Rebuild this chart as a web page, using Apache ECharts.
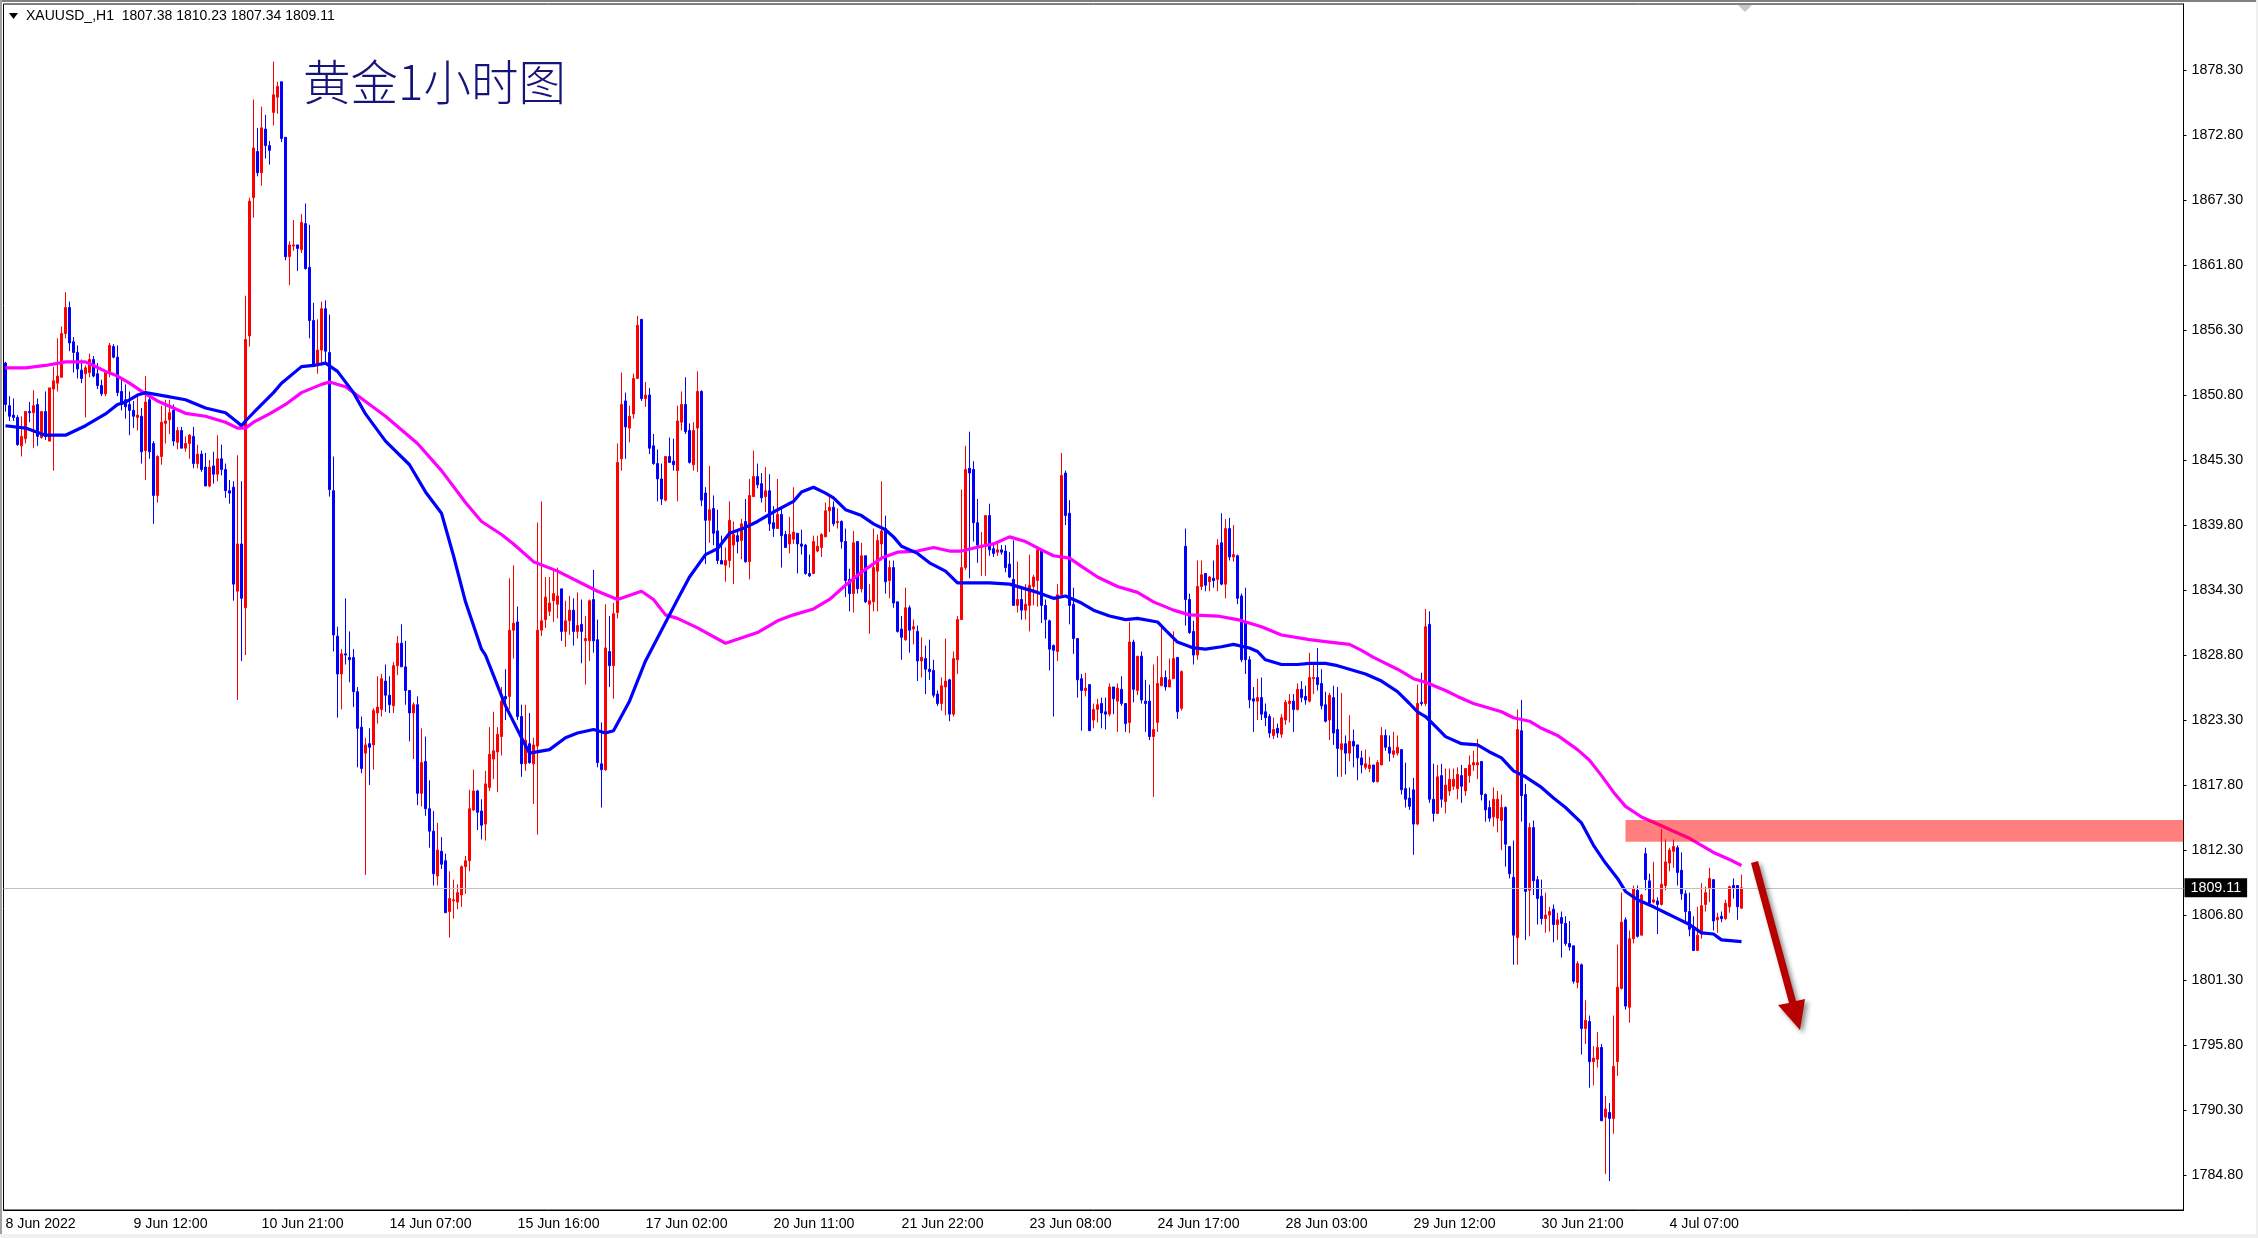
<!DOCTYPE html>
<html><head><meta charset="utf-8"><style>html,body{margin:0;padding:0;background:#fff}#c{width:2258px;height:1238px}</style>
<script src="https://cdn.jsdelivr.net/npm/echarts@6/dist/echarts.min.js"></script></head><body><div id="c"></div>
<script>
const tickLabels=['8 Jun 2022','9 Jun 12:00','10 Jun 21:00','14 Jun 07:00','15 Jun 16:00','17 Jun 02:00','20 Jun 11:00','21 Jun 22:00','23 Jun 08:00','24 Jun 17:00','28 Jun 03:00','29 Jun 12:00','30 Jun 21:00','4 Jul 07:00'];
const barsPerTick=32;
const axisSlots=545;
const priceTicks=[1784.8,1790.3,1795.8,1801.3,1806.8,1812.3,1817.8,1823.3,1828.8,1834.3,1839.8,1845.3,1850.8,1856.3,1861.8,1867.3,1872.8,1878.3];
const lastPrice=1809.11;
const resistanceZone=[[405,1814.85,1813.0]];
const opens=[
1853.5,1849.9,1849.1,1848.9,1846.5,1847.1,1849.4,1849.3,1850.0,1847.2,
1849.4,1846.9,1851.3,1851.8,1852.3,1856.0,1858.2,1855.3,1854.4,1852.9,
1852.6,1852.7,1853.8,1852.6,1851.6,1850.9,1852.7,1854.9,1854.0,1851.1,
1850.4,1850.0,1849.5,1848.9,1849.0,1846.1,1850.4,1846.7,1842.3,1845.6,
1848.4,1848.7,1849.5,1846.8,1847.8,1846.3,1846.7,1847.3,1845.0,1845.8,
1844.7,1843.1,1844.8,1844.1,1845.4,1844.5,1842.7,1843.0,1834.2,1838.2,
1832.8,1855.8,1867.5,1871.4,1869.6,1873.3,1871.9,1874.7,1876.0,1877.3,
1872.6,1862.5,1863.4,1863.5,1863.1,1865.3,1861.6,1857.1,1853.3,1854.6,
1858.1,1854.4,1842.7,1830.4,1827.2,1828.9,1828.6,1828.6,1825.7,1822.7,
1820.5,1821.3,1821.2,1823.9,1824.2,1826.6,1825.4,1824.5,1827.9,1829.8,
1827.8,1825.8,1823.9,1824.6,1817.1,1819.8,1815.8,1813.9,1810.1,1812.2,
1811.4,1807.1,1808.0,1807.9,1808.5,1810.9,1811.4,1815.7,1817.3,1815.6,
1814.5,1817.6,1820.0,1820.6,1821.9,1825.3,1825.3,1830.9,1831.6,1823.6,
1819.6,1821.3,1819.6,1821.1,1830.9,1831.8,1832.5,1833.4,1833.1,1834.4,
1830.8,1831.7,1832.6,1830.8,1831.4,1830.0,1830.0,1833.5,1830.1,1819.6,
1819.1,1829.1,1827.9,1832.4,1845.4,1850.3,1848.0,1849.2,1852.2,1857.2,
1850.5,1850.8,1846.5,1845.0,1843.7,1841.9,1845.6,1845.2,1844.4,1848.5,
1850.0,1847.8,1844.9,1848.0,1851.1,1842.5,1840.2,1841.2,1839.3,1836.8,
1836.4,1836.8,1838.1,1838.9,1838.5,1840.1,1836.7,1842.2,1843.9,1843.3,
1842.2,1842.7,1840.0,1839.5,1840.7,1839.0,1838.2,1838.6,1839.1,1838.2,
1838.1,1835.7,1835.7,1837.6,1837.9,1838.8,1841.0,1841.3,1840.0,1840.1,
1838.4,1835.2,1834.0,1838.4,1834.4,1837.2,1833.1,1833.3,1835.9,1838.2,
1839.5,1835.1,1836.2,1833.3,1831.0,1830.1,1832.8,1831.0,1830.8,1828.3,
1828.5,1827.6,1827.5,1825.5,1824.7,1826.1,1826.7,1823.8,1828.4,1831.8,
1836.2,1844.6,1844.5,1840.0,1837.9,1838.2,1840.6,1837.8,1837.5,1837.7,
1837.6,1836.5,1835.2,1833.0,1833.5,1832.6,1833.0,1834.6,1835.1,1837.6,
1833.0,1831.7,1829.6,1829.1,1833.9,1844.2,1840.8,1833.1,1830.2,1826.8,
1825.8,1826.3,1823.3,1824.2,1824.7,1824.0,1823.8,1826.1,1824.9,1825.9,
1824.7,1823.1,1829.9,1825.8,1828.7,1824.9,1824.9,1821.9,1823.1,1826.2,
1826.9,1826.1,1826.8,1828.6,1824.3,1838.0,1833.5,1830.8,1828.8,1834.6,
1835.7,1835.0,1835.3,1835.2,1838.3,1834.8,1839.5,1837.1,1837.2,1833.8,
1831.6,1828.4,1825.1,1824.9,1825.2,1824.0,1823.6,1822.0,1822.6,1822.1,
1823.3,1824.7,1824.9,1824.2,1825.9,1825.3,1824.9,1826.8,1826.9,1826.4,
1824.6,1823.3,1825.2,1822.5,1820.8,1821.3,1820.5,1821.5,1821.2,1820.1,
1819.3,1819.2,1819.5,1818.1,1819.5,1822.0,1821.0,1820.4,1820.5,1820.8,
1817.5,1816.7,1817.4,1814.5,1824.8,1824.7,1831.4,1816.6,1815.4,1818.6,
1816.4,1817.3,1817.7,1817.5,1818.6,1817.3,1818.6,1819.5,1819.5,1819.8,
1817.0,1815.9,1815.1,1815.0,1814.8,1815.9,1812.6,1810.0,1804.9,1822.4,
1817.0,1808.9,1814.2,1809.8,1808.4,1806.5,1806.8,1807.3,1806.0,1806.6,
1806.1,1804.4,1804.2,1801.1,1802.6,1797.2,1797.8,1794.4,1794.6,1795.6,
1789.7,1790.1,1789.6,1794.4,1800.6,1806.4,1799.0,1804.8,1808.9,1805.1,
1812.0,1809.7,1807.9,1808.0,1807.7,1809.3,1811.2,1812.2,1812.5,1810.6,
1808.6,1807.1,1805.8,1803.8,1805.2,1807.7,1809.1,1809.8,1806.4,1806.7,
1806.5,1807.5,1809.3,1809.3,1807.38];
const closes=[
1850.0,1849.0,1848.9,1846.6,1847.3,1849.4,1849.3,1849.9,1847.3,1849.4,
1847.3,1851.4,1852.0,1852.4,1856.0,1858.2,1855.2,1854.4,1853.0,1852.2,
1853.1,1853.8,1852.4,1851.6,1850.9,1852.7,1855.0,1854.0,1851.0,1850.0,
1849.8,1849.5,1849.0,1849.1,1846.0,1850.2,1846.0,1842.3,1845.6,1848.5,
1848.6,1849.3,1846.9,1847.8,1846.3,1846.7,1847.4,1845.0,1845.8,1844.5,
1843.1,1844.7,1844.1,1845.4,1844.5,1842.7,1842.5,1834.8,1838.2,1833.6,
1855.5,1867.2,1871.7,1869.6,1873.4,1871.9,1871.5,1876.2,1876.9,1872.5,
1862.5,1863.5,1863.5,1863.2,1865.4,1861.5,1857.1,1853.2,1854.6,1858.1,
1854.5,1842.8,1830.5,1827.2,1828.9,1828.8,1828.4,1825.7,1822.6,1819.2,
1821.2,1821.0,1824.1,1824.4,1826.8,1825.4,1824.6,1827.9,1829.8,1827.8,
1825.8,1823.9,1824.6,1817.1,1819.7,1815.8,1813.9,1810.3,1812.3,1811.1,
1807.0,1808.2,1808.1,1808.7,1810.9,1811.4,1815.8,1817.3,1815.5,1814.4,
1817.9,1820.4,1820.7,1822.1,1824.9,1825.1,1830.9,1831.5,1823.6,1819.6,
1821.6,1819.7,1821.2,1830.9,1831.7,1833.7,1833.2,1834.0,1833.8,1830.8,
1831.7,1832.6,1830.8,1831.3,1830.8,1830.2,1833.4,1830.0,1819.7,1819.1,
1829.4,1827.9,1832.3,1845.1,1850.0,1848.1,1849.0,1852.2,1856.7,1850.5,
1850.8,1846.3,1845.0,1843.7,1842.0,1845.6,1845.1,1844.9,1848.6,1850.0,
1847.7,1845.1,1847.8,1851.1,1841.9,1840.2,1841.1,1839.1,1836.8,1836.5,
1836.8,1840.2,1839.0,1838.4,1839.9,1836.7,1842.3,1843.9,1843.2,1842.1,
1842.7,1839.9,1839.5,1840.7,1838.9,1837.9,1839.0,1839.2,1838.2,1838.0,
1835.7,1835.5,1838.4,1838.0,1839.0,1841.0,1841.3,1839.9,1840.1,1838.4,
1835.1,1834.0,1838.3,1834.4,1837.2,1833.3,1833.4,1836.2,1838.5,1839.3,
1835.0,1836.2,1833.2,1830.8,1830.3,1832.8,1830.9,1831.2,1828.3,1828.6,
1827.6,1827.4,1825.4,1824.7,1826.2,1826.6,1823.8,1828.5,1831.8,1836.2,
1844.5,1844.2,1840.0,1838.1,1838.0,1840.6,1837.7,1837.4,1837.7,1837.5,
1836.2,1835.4,1833.0,1833.5,1832.6,1833.1,1834.7,1835.4,1837.7,1833.0,
1831.8,1829.3,1829.2,1833.9,1844.0,1840.6,1833.0,1830.2,1826.7,1825.8,
1826.0,1822.4,1824.2,1824.6,1823.9,1823.8,1826.1,1825.1,1826.0,1824.7,
1823.0,1829.9,1825.9,1828.7,1825.0,1824.7,1821.9,1822.5,1826.4,1826.9,
1826.1,1826.7,1828.5,1824.0,1827.4,1833.5,1830.7,1828.8,1834.6,1835.6,
1834.7,1835.4,1835.1,1838.1,1834.8,1839.5,1837.1,1837.3,1833.6,1828.4,
1828.4,1825.0,1824.9,1825.2,1823.8,1823.5,1822.2,1822.5,1822.2,1823.5,
1824.8,1824.9,1824.2,1825.9,1825.2,1825.0,1826.9,1826.9,1826.3,1824.5,
1823.2,1825.4,1822.2,1820.9,1821.3,1820.5,1821.5,1821.1,1820.1,1819.5,
1819.6,1819.5,1818.1,1819.7,1822.0,1821.0,1820.5,1820.7,1821.0,1817.4,
1816.6,1816.0,1814.5,1824.7,1824.7,1831.2,1816.6,1815.4,1818.5,1816.6,
1817.8,1818.3,1818.3,1818.7,1817.7,1819.2,1819.5,1819.7,1819.7,1817.0,
1815.7,1815.0,1816.6,1816.6,1815.9,1812.8,1810.3,1805.1,1822.5,1816.9,
1808.8,1814.2,1809.7,1808.2,1806.5,1806.8,1807.1,1806.0,1806.4,1806.1,
1804.4,1804.1,1801.2,1802.7,1797.2,1797.9,1794.4,1794.7,1795.6,1789.4,
1790.4,1789.6,1794.0,1800.7,1806.2,1799.1,1804.8,1809.0,1805.0,1808.5,
1809.8,1807.8,1808.1,1807.7,1809.4,1811.3,1812.3,1812.6,1810.4,1808.6,
1807.1,1805.6,1803.8,1805.1,1807.6,1808.7,1809.9,1806.3,1806.6,1806.5,
1807.8,1809.2,1809.1,1807.5,1809.11];
const highs=[
1853.6,1850.7,1850.5,1849.1,1849.0,1849.4,1850.2,1851.2,1850.5,1849.4,
1851.1,1851.4,1853.2,1855.6,1856.6,1859.5,1858.7,1855.7,1855.0,1853.8,
1853.3,1854.3,1854.1,1853.5,1852.1,1852.9,1855.2,1855.1,1855.0,1852.1,
1851.7,1851.1,1850.3,1850.7,1849.7,1852.4,1850.7,1846.9,1845.7,1849.9,
1850.4,1850.4,1850.0,1848.1,1848.1,1847.3,1847.5,1848.1,1846.6,1846.1,
1845.9,1845.3,1846.0,1847.4,1846.6,1845.0,1843.6,1843.5,1845.7,1843.5,
1859.2,1867.5,1875.8,1873.4,1875.2,1874.5,1872.3,1879.0,1877.3,1877.3,
1872.6,1863.8,1865.6,1863.5,1866.1,1867.0,1865.2,1858.6,1857.2,1858.7,
1858.8,1857.6,1845.6,1831.2,1829.3,1833.6,1830.8,1829.3,1826.1,1823.6,
1821.8,1822.6,1824.3,1827.0,1827.2,1828.0,1827.0,1828.2,1830.4,1831.4,
1830.0,1825.8,1824.8,1825.3,1822.6,1821.9,1818.2,1815.6,1814.6,1813.4,
1812.0,1810.5,1809.8,1809.4,1811.0,1811.8,1817.4,1819.1,1817.4,1816.6,
1819.0,1822.7,1824.0,1822.7,1826.1,1827.6,1835.3,1836.4,1832.9,1824.6,
1824.6,1823.9,1821.8,1840.0,1841.8,1835.4,1835.4,1836.1,1836.2,1834.4,
1833.4,1833.8,1833.6,1834.1,1833.5,1832.1,1833.5,1836.0,1831.8,1823.1,
1833.1,1832.1,1833.2,1846.7,1852.7,1851.0,1849.9,1852.6,1857.5,1857.2,
1851.9,1851.4,1847.5,1846.2,1845.0,1845.6,1847.2,1847.1,1849.9,1851.1,
1852.3,1848.4,1848.5,1852.8,1851.2,1843.0,1844.8,1842.3,1841.1,1838.9,
1837.9,1841.8,1840.1,1839.4,1840.3,1842.0,1843.7,1846.1,1845.0,1844.2,
1844.7,1844.1,1841.4,1843.7,1841.2,1839.3,1840.5,1843.0,1839.1,1839.4,
1838.2,1837.3,1838.9,1838.9,1839.1,1841.7,1842.2,1841.8,1841.2,1840.2,
1839.5,1836.1,1839.3,1838.4,1838.3,1837.2,1834.8,1839.5,1839.0,1843.5,
1840.6,1836.8,1836.8,1833.3,1832.1,1834.5,1833.0,1831.8,1831.3,1830.3,
1829.6,1830.1,1828.4,1825.8,1826.9,1830.2,1826.8,1829.1,1832.1,1842.8,
1846.5,1847.7,1845.2,1842.0,1839.2,1840.6,1841.6,1838.2,1838.2,1838.1,
1838.1,1837.5,1838.5,1836.7,1834.6,1834.8,1837.3,1835.6,1837.9,1837.7,
1833.5,1831.8,1829.7,1834.8,1845.9,1844.4,1841.9,1834.5,1830.2,1827.2,
1827.3,1826.3,1824.7,1825.1,1825.2,1825.2,1826.4,1826.1,1826.4,1827.0,
1824.7,1831.6,1830.1,1828.7,1829.1,1826.7,1826.3,1828.0,1828.7,1831.1,
1827.5,1828.5,1830.8,1828.6,1827.5,1839.5,1834.0,1831.7,1836.8,1836.8,
1835.7,1835.5,1836.8,1838.6,1840.8,1840.3,1840.4,1839.8,1837.3,1834.0,
1834.5,1828.7,1826.1,1826.8,1826.9,1824.7,1823.8,1823.5,1823.0,1823.8,
1825.0,1825.5,1825.5,1826.4,1826.6,1826.2,1829.0,1828.0,1829.4,1827.6,
1825.7,1825.6,1826.2,1826.1,1825.6,1822.0,1823.7,1822.5,1821.2,1820.7,
1820.8,1820.2,1819.5,1819.9,1822.7,1822.5,1822.0,1822.3,1822.0,1820.8,
1819.7,1817.6,1818.4,1826.3,1827.3,1832.7,1832.5,1819.6,1819.5,1819.6,
1819.2,1819.2,1819.2,1819.3,1819.5,1819.2,1820.3,1820.7,1821.7,1819.8,
1817.1,1816.5,1817.6,1817.3,1817.0,1816.0,1812.6,1813.1,1824.2,1825.0,
1817.9,1814.6,1814.8,1810.1,1809.8,1808.7,1807.5,1807.7,1807.0,1807.1,
1806.7,1806.3,1804.2,1802.9,1802.7,1799.6,1798.3,1795.7,1796.9,1795.9,
1791.5,1790.9,1798.3,1804.3,1808.7,1806.6,1805.5,1809.3,1809.3,1808.6,
1812.5,1810.3,1811.3,1808.3,1814.1,1813.2,1812.5,1813.2,1812.7,1812.1,
1808.9,1808.7,1806.7,1807.5,1809.5,1809.2,1810.8,1809.8,1807.0,1807.1,
1808.1,1809.3,1809.9,1809.3,1810.23];
const lows=[
1849.4,1848.6,1848.6,1846.5,1845.6,1846.7,1848.5,1846.3,1846.5,1847.1,
1847.0,1846.9,1844.4,1851.1,1852.3,1855.6,1854.5,1852.7,1852.2,1851.8,
1848.9,1852.3,1852.3,1851.3,1850.7,1850.7,1852.3,1853.9,1850.7,1849.5,
1848.8,1847.4,1848.0,1847.8,1845.0,1843.6,1845.4,1839.9,1841.7,1844.9,
1846.7,1847.5,1846.5,1846.2,1846.3,1846.0,1845.4,1844.6,1844.6,1844.3,
1843.1,1843.0,1843.3,1843.5,1844.0,1842.1,1841.6,1833.4,1825.0,1828.3,
1828.8,1854.9,1865.8,1869.3,1868.5,1870.8,1870.3,1873.6,1874.6,1872.2,
1862.2,1860.1,1863.0,1861.3,1862.8,1861.4,1855.6,1853.2,1852.6,1853.3,
1853.5,1842.2,1829.1,1823.5,1824.2,1828.0,1826.5,1824.4,1819.3,1818.8,
1810.2,1817.8,1819.1,1823.0,1823.6,1824.0,1823.9,1823.9,1827.1,1827.8,
1824.6,1821.5,1820.0,1816.1,1816.0,1815.2,1812.5,1809.3,1809.3,1810.7,
1807.0,1804.9,1806.5,1807.3,1807.5,1808.6,1810.5,1815.6,1814.0,1813.2,
1813.1,1817.3,1818.3,1817.2,1820.3,1823.3,1824.2,1828.5,1823.3,1818.5,
1819.0,1819.6,1816.2,1813.6,1830.4,1831.1,1832.1,1831.6,1831.9,1830.0,
1829.5,1830.5,1829.6,1830.2,1828.1,1826.3,1828.3,1829.0,1819.3,1815.9,
1819.0,1826.1,1825.1,1831.9,1844.4,1845.4,1846.8,1848.8,1852.2,1850.3,
1849.8,1845.8,1844.9,1841.8,1841.5,1841.8,1845.1,1844.4,1841.8,1847.8,
1847.5,1845.0,1844.4,1844.3,1841.4,1836.5,1838.3,1838.1,1836.5,1836.5,
1835.0,1836.2,1834.8,1837.4,1836.9,1836.6,1835.2,1842.2,1842.9,1841.7,
1840.9,1839.3,1838.8,1839.5,1836.2,1837.9,1837.4,1838.2,1835.7,1837.3,
1835.6,1835.4,1835.7,1837.5,1837.1,1838.8,1839.2,1839.7,1839.5,1837.8,
1833.7,1832.5,1832.4,1834.0,1834.1,1833.2,1830.6,1832.5,1832.5,1836.8,
1834.0,1833.6,1832.8,1830.7,1828.4,1830.0,1829.0,1829.7,1826.6,1826.9,
1825.5,1826.7,1825.2,1824.5,1824.1,1823.7,1823.2,1823.6,1827.2,1831.8,
1836.0,1835.3,1838.4,1836.6,1835.5,1835.5,1837.2,1837.1,1837.2,1837.3,
1835.8,1835.3,1833.0,1832.4,1831.8,1831.8,1830.8,1833.0,1832.9,1831.5,
1830.2,1827.5,1823.6,1828.3,1833.8,1839.8,1831.4,1828.9,1825.2,1822.4,
1825.3,1822.4,1822.6,1823.1,1822.6,1822.5,1823.6,1823.8,1822.3,1824.5,
1822.3,1822.2,1824.8,1825.4,1824.7,1822.3,1821.6,1816.8,1822.3,1826.2,
1825.8,1826.1,1826.8,1823.4,1824.1,1831.3,1830.6,1828.0,1828.4,1834.3,
1834.2,1834.2,1834.5,1834.2,1834.7,1833.6,1836.8,1836.7,1833.1,1828.2,
1827.2,1824.3,1822.3,1823.3,1823.3,1822.8,1821.8,1821.7,1821.8,1821.8,
1822.9,1823.1,1822.3,1824.1,1824.8,1824.6,1824.8,1825.5,1825.8,1824.2,
1823.1,1821.6,1821.2,1818.5,1818.5,1818.7,1819.8,1819.3,1818.2,1818.8,
1819.1,1818.9,1818.0,1818.0,1819.5,1820.7,1819.8,1820.1,1820.3,1817.0,
1815.9,1815.7,1811.9,1814.4,1824.5,1824.5,1816.3,1814.7,1815.4,1815.9,
1815.4,1816.9,1817.4,1816.6,1816.3,1816.9,1818.0,1819.0,1818.3,1816.5,
1814.7,1814.7,1814.3,1813.8,1812.3,1810.9,1809.9,1802.6,1802.6,1814.7,
1804.7,1805.0,1808.5,1806.0,1806.0,1805.3,1805.4,1804.5,1804.7,1803.2,
1804.2,1803.8,1801.0,1800.6,1795.0,1795.9,1792.2,1792.4,1793.9,1789.4,
1784.9,1784.3,1788.3,1793.2,1800.5,1798.8,1797.7,1804.4,1804.9,1805.1,
1808.9,1807.6,1807.8,1805.2,1807.6,1808.9,1810.5,1810.8,1809.3,1808.1,
1806.2,1805.0,1803.8,1803.8,1804.8,1807.1,1807.9,1805.5,1805.3,1806.2,
1806.4,1807.0,1808.2,1806.4,1807.34];
const blueMA=[[0,1848.2],[5,1848.0],[10,1847.4],[15,1847.4],[20,1848.2],[25,1849.2],[28,1850.0],[30,1850.2],[33,1850.8],[35,1851.0],[40,1850.7],[45,1850.4],[50,1849.7],[55,1849.3],[58,1848.5],[59,1848.2],[60,1848.6],[62,1849.3],[67,1851.0],[69,1851.8],[74,1853.2],[77,1853.3],[80,1853.5],[83,1852.8],[87,1851.0],[90,1849.2],[95,1846.9],[101,1844.9],[105,1842.6],[109,1840.8],[112,1837.2],[115,1833.3],[119,1829.3],[120,1828.8],[125,1824.5],[129,1821.8],[131,1820.5],[136,1820.8],[140,1821.8],[143,1822.2],[147,1822.5],[150,1822.2],[152,1822.4],[156,1824.9],[160,1828.3],[164,1830.9],[168,1833.5],[171,1835.4],[175,1837.3],[178,1837.8],[181,1839.1],[185,1839.6],[188,1840.1],[191,1840.7],[192,1840.9],[197,1841.8],[199,1842.6],[202,1843.0],[205,1842.5],[207,1842.1],[210,1841.1],[214,1840.6],[217,1839.9],[220,1839.4],[222,1838.8],[224,1838.0],[228,1837.4],[231,1836.6],[235,1835.9],[238,1834.9],[242,1834.9],[246,1834.9],[251,1834.8],[255,1834.4],[258,1834.1],[262,1833.6],[265,1833.8],[269,1833.2],[272,1832.6],[276,1832.1],[280,1831.8],[283,1831.9],[288,1831.6],[290,1830.9],[293,1829.9],[297,1829.4],[300,1829.3],[304,1829.5],[307,1829.7],[311,1829.4],[313,1829.1],[315,1828.4],[319,1828.0],[323,1828.0],[326,1828.1],[330,1828.1],[333,1827.9],[336,1827.6],[340,1827.2],[344,1826.6],[348,1825.7],[351,1824.7],[353,1824.0],[355,1823.6],[358,1822.6],[360,1821.9],[364,1821.3],[368,1821.2],[371,1820.6],[374,1820.1],[377,1819.0],[380,1818.5],[384,1817.6],[387,1816.7],[390,1815.9],[394,1814.6],[397,1812.7],[400,1811.2],[403,1809.9],[405,1808.8],[408,1808.1],[412,1807.5],[415,1807.0],[418,1806.5],[421,1806.0],[424,1805.3],[427,1805.2],[429,1804.7],[434,1804.55]];
const magentaMA=[[0,1853.1],[5,1853.1],[10,1853.3],[15,1853.6],[20,1853.6],[22,1853.3],[25,1852.8],[28,1852.4],[31,1851.8],[35,1850.9],[38,1850.3],[42,1849.7],[45,1849.25],[50,1849.0],[55,1848.5],[58,1848.0],[60,1848.0],[62,1848.5],[66,1849.2],[70,1850.0],[74,1851.0],[79,1851.7],[81,1851.9],[85,1851.5],[89,1850.5],[95,1849.0],[103,1846.7],[109,1844.4],[115,1841.7],[119,1840.1],[124,1839.0],[127,1838.2],[132,1836.7],[138,1835.9],[148,1834.2],[153,1833.5],[159,1834.2],[162,1833.5],[165,1832.2],[168,1831.9],[173,1831.1],[180,1829.8],[188,1830.7],[193,1831.7],[197,1832.2],[202,1832.7],[206,1833.5],[210,1834.7],[214,1835.8],[219,1837.0],[223,1837.5],[228,1837.6],[232,1837.9],[236,1837.6],[239,1837.6],[244,1838.0],[247,1838.2],[251,1838.8],[255,1838.4],[259,1837.7],[262,1837.2],[266,1837.0],[269,1836.3],[273,1835.4],[278,1834.6],[283,1834.1],[287,1833.3],[292,1832.6],[296,1832.2],[303,1832.1],[308,1831.8],[314,1831.2],[319,1830.5],[326,1830.1],[331,1829.9],[336,1829.7],[339,1829.2],[342,1828.6],[348,1827.6],[352,1826.8],[355,1826.5],[360,1825.8],[363,1825.3],[367,1824.7],[370,1824.4],[374,1824.0],[377,1823.5],[381,1823.2],[384,1822.6],[388,1822.0],[393,1820.8],[396,1819.9],[399,1818.6],[402,1817.2],[405,1816.0],[409,1815.1],[413,1814.5],[417,1813.9],[421,1813.3],[427,1812.1],[431,1811.5],[434,1811.0]];

const slots=Array.from({length:axisSlots},(_,i)=>i%barsPerTick===0&&tickLabels[i/barsPerTick]?tickLabels[i/barsPerTick]:'');
const candles=opens.map((o,i)=>[o,closes[i],lows[i],highs[i]]);
const isTick=i=>i%barsPerTick===0&&i/barsPerTick<tickLabels.length;
const font='"Liberation Sans",Arial,sans-serif';
const chart=echarts.init(document.getElementById('c'),null,{renderer:'canvas'});
chart.setOption({
 animation:false,backgroundColor:'#fff',
 title:[
  {text:'XAUUSD_,H1  1807.38 1810.23 1807.34 1809.11',left:26,top:9,padding:0,textStyle:{fontFamily:font,fontSize:14,fontWeight:'normal',color:'#000'}},
  {text:'黄金1小时图',left:303,top:58,padding:0,textStyle:{fontFamily:'"Noto Sans CJK SC",sans-serif',fontSize:47.5,fontWeight:300,color:'#14147a'}}
 ],
 grid:{left:3.5,top:4,width:2180,height:1206,show:true,borderColor:'#000',borderWidth:1,backgroundColor:'#fff'},
 xAxis:{type:'category',data:slots,boundaryGap:true,
  axisLine:{lineStyle:{color:'#000'}},
  axisTick:{alignWithLabel:true,interval:(i)=>isTick(i),length:3,lineStyle:{color:'#000'}},
  axisLabel:{interval:(i)=>isTick(i),align:'left',margin:7,color:'#000',fontFamily:font,fontSize:14.2,hideOverlap:false},
  splitLine:{show:false}},
 yAxis:{type:'value',position:'right',min:1781.85,max:1883.88,scale:true,
  axisLine:{show:true,lineStyle:{color:'#000'}},
  axisTick:{show:true,length:3,customValues:priceTicks,lineStyle:{color:'#000'}},
  axisLabel:{customValues:priceTicks,formatter:v=>v.toFixed(2),margin:8,padding:[2,0,0,0],color:'#000',fontFamily:font,fontSize:14.3},
  splitLine:{show:false}},
 series:[
  {type:'line',data:[],z:1,markLine:{silent:true,symbol:'none',animation:false,
    lineStyle:{color:'#c0c0c0',width:1,type:'solid'},
    label:{show:true,position:'end',formatter:()=>lastPrice.toFixed(2),color:'#fff',backgroundColor:'#000',padding:[3,6,2,6],distance:1,fontFamily:font,fontSize:14.3},
    data:[{yAxis:lastPrice}]}},
  {type:'candlestick',data:candles,barWidth:2.2,z:2,large:false,progressive:0,
   itemStyle:{color:'#ff0000',color0:'#0000ff',borderColor:'#ff0000',borderColor0:'#0000ff',borderWidth:1}},
  {type:'line',data:magentaMA,z:3,showSymbol:false,smooth:false,lineStyle:{color:'#ff00ff',width:3.2}},
  {type:'line',data:blueMA,z:4,showSymbol:false,smooth:false,lineStyle:{color:'#0000ff',width:3.2}},
  {type:'custom',data:resistanceZone,z:20,silent:true,encode:{x:0,y:[1,2]},
   renderItem:(p,api)=>{const a=api.coord([api.value(0),api.value(1)]);const b=api.coord([api.value(0),api.value(2)]);
    const right=p.coordSys.x+p.coordSys.width;
    return {type:'rect',shape:{x:a[0],y:a[1],width:right-a[0],height:b[1]-a[1]},style:{fill:'rgba(255,0,0,0.5)'}};}}
 ],
 graphic:[
  {type:'rect',silent:true,z:50,shape:{x:0,y:0,width:2258,height:2},style:{fill:'#808080'}},
  {type:'rect',silent:true,z:50,shape:{x:0,y:0,width:2,height:1238},style:{fill:'#a0a0a0'}},
  {type:'rect',silent:true,z:50,shape:{x:0,y:1234,width:2258,height:4},style:{fill:'#f0f0f0'}},
  {type:'rect',silent:true,z:50,shape:{x:2256,y:0,width:2,height:1238},style:{fill:'#f0f0f0'}},
  {type:'polygon',silent:true,z:50,shape:{points:[[9,13],[18,13],[13.5,19]]},style:{fill:'#000'}},
  {type:'polygon',silent:true,z:50,shape:{points:[[1738,5],[1752,5],[1745,12]]},style:{fill:'#c8c8c8'}},
  {type:'polygon',silent:true,z:50,shape:{points:[[1751,863],[1758,861],[1796,1001],[1805,999],[1800,1030],[1778,1005],[1789,1003]]},
   style:{fill:'#b80000',shadowBlur:5,shadowOffsetX:3,shadowOffsetY:3,shadowColor:'rgba(0,0,0,0.45)'}}
 ]
});
</script></body></html>
